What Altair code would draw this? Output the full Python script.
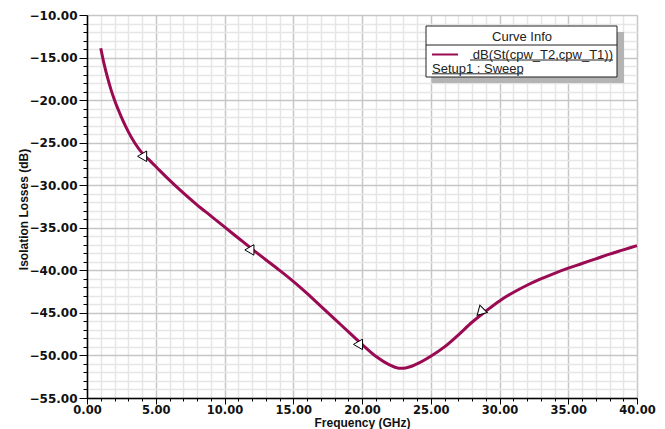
import altair as alt
import pandas as pd

# Curve: dB(St(cpw_T2,cpw_T1)) vs frequency
freq_ghz = [1, 1.25, 1.5, 1.75, 2, 2.5, 3, 3.5, 4, 4.5, 5, 6, 7, 8, 9, 10, 11, 12, 13, 14, 15,
            16, 17, 18, 19, 20, 21, 22, 22.7, 23, 24, 25, 26, 27, 28, 29, 30,
            31, 32, 33, 34, 35, 36, 37, 38, 39, 40]
loss_db = [-13.9, -15.8, -17.4, -18.8, -20.0, -22.0, -23.7, -25.1, -26.2, -27.0, -27.8, -29.4,
           -30.9, -32.3, -33.6, -34.9, -36.2, -37.5, -38.75, -40.0, -41.3,
           -42.7, -44.2, -45.7, -47.2, -48.7, -50.1, -51.1, -51.5, -51.5, -51.0,
           -50.1, -49.0, -47.6, -46.1, -44.8, -43.6,
           -42.6, -41.75, -41.0, -40.35, -39.75, -39.2, -38.65, -38.1, -37.6, -37.1]

# Marker arrows on the curve
marker_freq = [4.3, 12.1, 20.0, 28.9]
marker_loss = [-26.6, -37.6, -48.7, -44.9]
marker_angle = [0, 0, 0, 315]

x_ticks = list(range(0, 41))
y_ticks = list(range(-55, -9))

legend_title = ["Curve Info"]
legend_curve = ["dB(St(cpw_T2,cpw_T1))"]
legend_setup = ["Setup1 : Sweep"]

curve_color = "#9a0a52"
major = "datum.value % 5 === 0"

curve_df = pd.DataFrame({"f": freq_ghz, "db": loss_db})
marker_df = pd.DataFrame({"f": marker_freq, "db": marker_loss, "ang": marker_angle})

x_scale = alt.Scale(domain=[0, 40], nice=False, zero=False)
y_scale = alt.Scale(domain=[-55, -10], nice=False, zero=False)

x_axis = alt.Axis(
    values=x_ticks, tickCount=200,
    labelExpr=f"{major} ? format(datum.value, '.2f') : ''",
    labelFont="DejaVu Sans", labelFontWeight="bold", labelFontSize=11.5,
    labelColor="#111111", labelFlush=False, labelOverlap=False, labelPadding=0,
    tickColor="#000000",
    tickSize={"condition": {"test": major, "value": 6}, "value": 3},
    domainColor="#000000", domainWidth=1.5,
    grid=True,
    gridColor={"condition": {"test": major, "value": "#c6c6c6"}, "value": "#e6e6e6"},
    gridWidth=1.5,
    title="Frequency (GHz)", titleFont="Liberation Sans", titleFontSize=12,
    titleFontWeight="bold", titleColor="#111111",
    titleY=24, titleBaseline="middle",
)

y_axis = alt.Axis(
    values=y_ticks, tickCount=200,
    labelExpr=f"{major} ? format(datum.value, '.2f') : ''",
    labelFont="DejaVu Sans", labelFontWeight="bold", labelFontSize=12,
    labelColor="#111111", labelFlush=False, labelOverlap=False, labelPadding=2,
    tickColor="#000000",
    tickSize={"condition": {"test": major, "value": 8}, "value": 4},
    domainColor="#000000", domainWidth=1.5,
    grid=True,
    gridColor={"condition": {"test": major, "value": "#c6c6c6"}, "value": "#e6e6e6"},
    gridWidth=1.5,
    title="Isolation Losses (dB)", titleFont="Liberation Sans", titleFontSize=12,
    titleFontWeight="bold", titleColor="#111111",
    titleX=-64, titleY=194, titleAlign="center", titleBaseline="middle", titleAngle=270,
)

line = alt.Chart(curve_df).mark_line(
    color=curve_color, strokeWidth=3, interpolate="monotone"
).encode(
    x=alt.X("f:Q", scale=x_scale, axis=x_axis),
    y=alt.Y("db:Q", scale=y_scale, axis=y_axis),
)

markers = alt.Chart(marker_df).mark_point(
    shape="triangle-left", size=110, filled=True, fill="white",
    stroke="black", strokeWidth=1, opacity=1, xOffset=-4,
).encode(
    x=alt.X("f:Q", scale=x_scale),
    y=alt.Y("db:Q", scale=y_scale),
    angle=alt.Angle("ang:Q", scale=None),
)

one = pd.DataFrame({"k": [0]})

shadow = alt.Chart(one).mark_rect(fill="#b4b4b4").encode(
    x=alt.value(345), x2=alt.value(537), y=alt.value(17), y2=alt.value(68))
box = alt.Chart(one).mark_rect(fill="white", stroke="#222222", strokeWidth=1).encode(
    x=alt.value(339), x2=alt.value(530), y=alt.value(11), y2=alt.value(62))
sep = alt.Chart(one).mark_rule(color="#222222", strokeWidth=1).encode(
    x=alt.value(339), x2=alt.value(530), y=alt.value(30))
t_title = alt.Chart(pd.DataFrame({"t": legend_title})).mark_text(
    font="Liberation Sans", fontSize=13, color="#222222", align="center", baseline="middle"
).encode(text="t:N", x=alt.value(435), y=alt.value(22))
sample = alt.Chart(one).mark_rule(color=curve_color, strokeWidth=2).encode(
    x=alt.value(345), x2=alt.value(371), y=alt.value(39.5))
t_curve = alt.Chart(pd.DataFrame({"t": legend_curve})).mark_text(
    font="Liberation Sans", fontSize=13, color="#222222", align="right", baseline="middle"
).encode(text="t:N", x=alt.value(526), y=alt.value(39.5))
u_curve = alt.Chart(one).mark_rule(color="#222222", strokeWidth=1).encode(
    x=alt.value(383), x2=alt.value(526), y=alt.value(45))
t_setup = alt.Chart(pd.DataFrame({"t": legend_setup})).mark_text(
    font="Liberation Sans", fontSize=13, color="#222222", align="left", baseline="middle"
).encode(text="t:N", x=alt.value(345), y=alt.value(53.5))
u_setup = alt.Chart(one).mark_rule(color="#222222", strokeWidth=1).encode(
    x=alt.value(345), x2=alt.value(436), y=alt.value(58.8))

chart = alt.layer(
    line, markers, shadow, box, sep, t_title, sample, t_curve, u_curve, t_setup, u_setup
).properties(
    width=550, height=383, autosize="none",
    padding={"left": 87, "top": 15, "right": 28, "bottom": 31},
).configure_view(stroke="#000000", strokeWidth=1.5).configure(background="white")

chart.save("out.html", embed_options={"renderer": "svg", "actions": False})
